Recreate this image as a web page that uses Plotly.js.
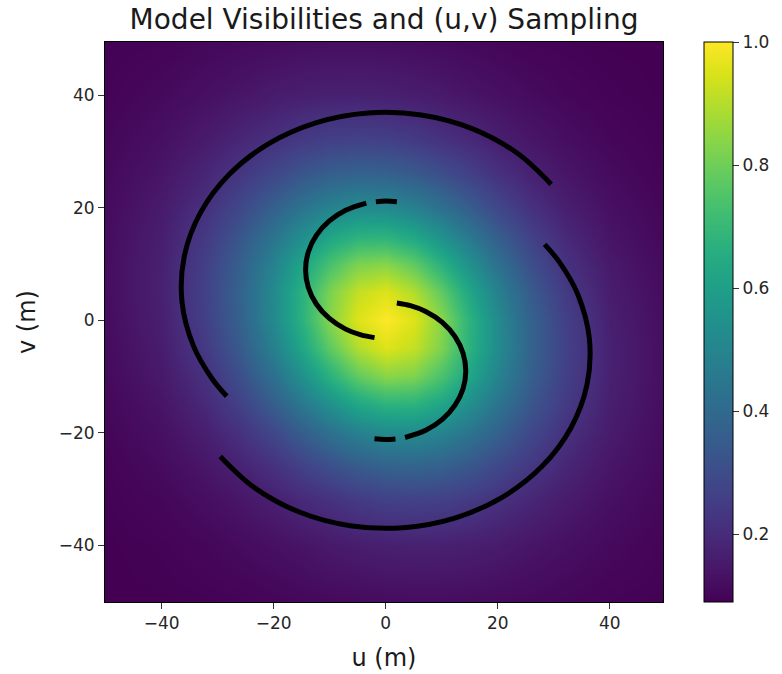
<!DOCTYPE html>
<html>
<head>
<meta charset="utf-8">
<script src="https://cdn.plot.ly/plotly-3.0.1.min.js"></script>
<style>html,body{margin:0;padding:0;background:#fff;}#chart{width:782px;height:674px;}</style>
</head>
<body>
<div id="chart"></div>
<script>
// Grid of (u,v) sample positions for the model visibility image (m)
const uGrid = [-50,-40,-32,-26,-20,-15,-10,-5,0,5,10,15,20,26,32,40,50];
const vGrid = [-50,-40,-32,-26,-20,-15,-10,-5,0,5,10,15,20,26,32,40,50];

// Visibility amplitude, one row per v value (bottom to top)
const visibility = [
  [0.09,0.09,0.093,0.095,0.101,0.106,0.111,0.114,0.117,0.119,0.119,0.117,0.114,0.110,0.104,0.096,0.092],
  [0.09,0.095,0.104,0.115,0.127,0.137,0.150,0.160,0.167,0.171,0.170,0.164,0.155,0.140,0.127,0.111,0.096],
  [0.093,0.104,0.123,0.141,0.166,0.194,0.218,0.244,0.261,0.266,0.260,0.243,0.216,0.186,0.156,0.127,0.104],
  [0.095,0.115,0.141,0.173,0.216,0.262,0.306,0.346,0.370,0.375,0.362,0.330,0.285,0.233,0.186,0.140,0.110],
  [0.101,0.127,0.166,0.216,0.285,0.355,0.424,0.484,0.518,0.522,0.493,0.438,0.368,0.285,0.216,0.155,0.114],
  [0.106,0.137,0.194,0.262,0.355,0.448,0.541,0.625,0.672,0.670,0.619,0.532,0.438,0.330,0.243,0.164,0.117],
  [0.111,0.150,0.218,0.306,0.424,0.541,0.667,0.776,0.836,0.820,0.736,0.619,0.493,0.362,0.260,0.170,0.119],
  [0.114,0.160,0.244,0.346,0.484,0.625,0.776,0.894,0.955,0.919,0.820,0.670,0.522,0.375,0.266,0.171,0.119],
  [0.117,0.167,0.261,0.370,0.518,0.672,0.836,0.955,1.000,0.955,0.836,0.672,0.518,0.370,0.261,0.167,0.117],
  [0.119,0.171,0.266,0.375,0.522,0.670,0.820,0.919,0.955,0.894,0.776,0.625,0.484,0.346,0.244,0.160,0.114],
  [0.119,0.170,0.260,0.362,0.493,0.619,0.736,0.820,0.836,0.776,0.667,0.541,0.424,0.306,0.218,0.150,0.111],
  [0.117,0.164,0.243,0.330,0.438,0.532,0.619,0.670,0.672,0.625,0.541,0.448,0.355,0.262,0.194,0.137,0.106],
  [0.114,0.155,0.216,0.285,0.368,0.438,0.493,0.522,0.518,0.484,0.424,0.355,0.285,0.216,0.166,0.127,0.101],
  [0.110,0.140,0.186,0.233,0.285,0.330,0.362,0.375,0.370,0.346,0.306,0.262,0.216,0.173,0.141,0.115,0.095],
  [0.104,0.127,0.156,0.186,0.216,0.243,0.260,0.266,0.261,0.244,0.218,0.194,0.166,0.141,0.123,0.104,0.093],
  [0.096,0.111,0.127,0.140,0.155,0.164,0.170,0.171,0.167,0.160,0.150,0.137,0.127,0.115,0.104,0.095,0.09],
  [0.092,0.096,0.104,0.110,0.114,0.117,0.119,0.119,0.117,0.114,0.111,0.106,0.101,0.095,0.093,0.09,0.09]
];

// (u,v) sampling tracks (m)
const outerTrackAU = [29.53,23.46,15.43,6.34,-3.18,-12.48,-20.94,-27.96,-33.08,-35.95,-36.36,-34.3,-30.95,-28.37];
const outerTrackAV = [24.22,29.75,34.1,36.53,36.88,35.13,31.39,25.93,19.1,11.38,3.3,-4.6,-10.43,-13.5];
const outerTrackBU = [-29.53,-23.46,-15.43,-6.34,3.18,12.48,20.94,27.96,33.08,35.95,36.36,34.3,30.95,28.37];
const outerTrackBV = [-24.22,-29.75,-34.1,-36.53,-36.88,-35.13,-31.39,-25.93,-19.1,-11.38,-3.3,4.6,10.43,13.5];

const innerTrackAU = [-3.46,-7.15,-10.11,-12.38,-13.81,-14.3,-13.81,-12.38,-10.11,-7.15,-4.42,-1.99];
const innerTrackAV = [20.84,19.57,17.63,15.1,12.16,9,5.84,2.9,0.37,-1.57,-2.6,-3.08];
const innerDashAU = [2.0,0,-1.75];
const innerDashAV = [21.08,21.2,21.1];
const innerTrackBU = [3.46,7.15,10.11,12.38,13.81,14.3,13.81,12.38,10.11,7.15,4.42,1.99];
const innerTrackBV = [-20.84,-19.57,-17.63,-15.1,-12.16,-9,-5.84,-2.9,-0.37,1.57,2.6,3.08];
const innerDashBU = [-2.0,0,1.75];
const innerDashBV = [-21.08,-21.2,-21.1];

const cbTicks = [0.2,0.4,0.6,0.8,1.0];
const axisTicks = [-40,-20,0,20,40];

const track = (u, v) => ({
  type:'scatter', mode:'lines', x:u, y:v,
  line:{color:'black', width:5, shape:'spline'},
  hoverinfo:'skip', showlegend:false
});

const data = [
  {
    type:'heatmap', x:uGrid, y:vGrid, z:visibility,
    colorscale:'Viridis', zsmooth:'best', showscale:true,
    colorbar:{
      x:1.0732, xanchor:'left', xref:'paper', y:0.5, yanchor:'middle',
      len:1, lenmode:'fraction', thickness:29, xpad:0, ypad:0,
      outlinecolor:'black', outlinewidth:1,
      tickvals:cbTicks, ticktext:cbTicks.map(t=>t.toFixed(1)),
      ticks:'outside', ticklen:6, tickcolor:'#333',
      tickfont:{size:17, color:'#262626'}
    },
    hoverinfo:'skip'
  },
  track(outerTrackAU, outerTrackAV),
  track(outerTrackBU, outerTrackBV),
  track(innerTrackAU, innerTrackAV),
  track(innerDashAU, innerDashAV),
  track(innerTrackBU, innerTrackBV),
  track(innerDashBU, innerDashBV)
];

const axisCommon = {
  tickvals:axisTicks, ticks:'outside', ticklen:6, tickwidth:1, tickcolor:'#333',
  showline:true, linecolor:'black', linewidth:1, mirror:true,
  zeroline:false, showgrid:false, automargin:false,
  tickfont:{size:17, color:'#262626'}
};

const layout = {
  width:782, height:674,
  margin:{l:105, r:117, t:42, b:72, pad:0},
  paper_bgcolor:'white', plot_bgcolor:'white',
  font:{family:'DejaVu Sans, sans-serif', size:17, color:'#262626'},
  title:{
    text:'Model Visibilities and (u,v) Sampling',
    font:{size:28, color:'#1a1a1a'},
    x:0.5, xref:'paper', xanchor:'center',
    y:1-19/674, yref:'container', yanchor:'middle'
  },
  xaxis:Object.assign({}, axisCommon, {
    range:[-50.1,49.5],
    title:{text:'u (m)', font:{size:24, color:'#1a1a1a'}, standoff:16}
  }),
  yaxis:Object.assign({}, axisCommon, {
    range:[-50.1,49.5],
    title:{text:'v (m)', font:{size:24, color:'#1a1a1a'}, standoff:16}
  }),
  showlegend:false,
  hovermode:false
};

Plotly.newPlot('chart', data, layout, {displayModeBar:false, staticPlot:true});
</script>
</body>
</html>
